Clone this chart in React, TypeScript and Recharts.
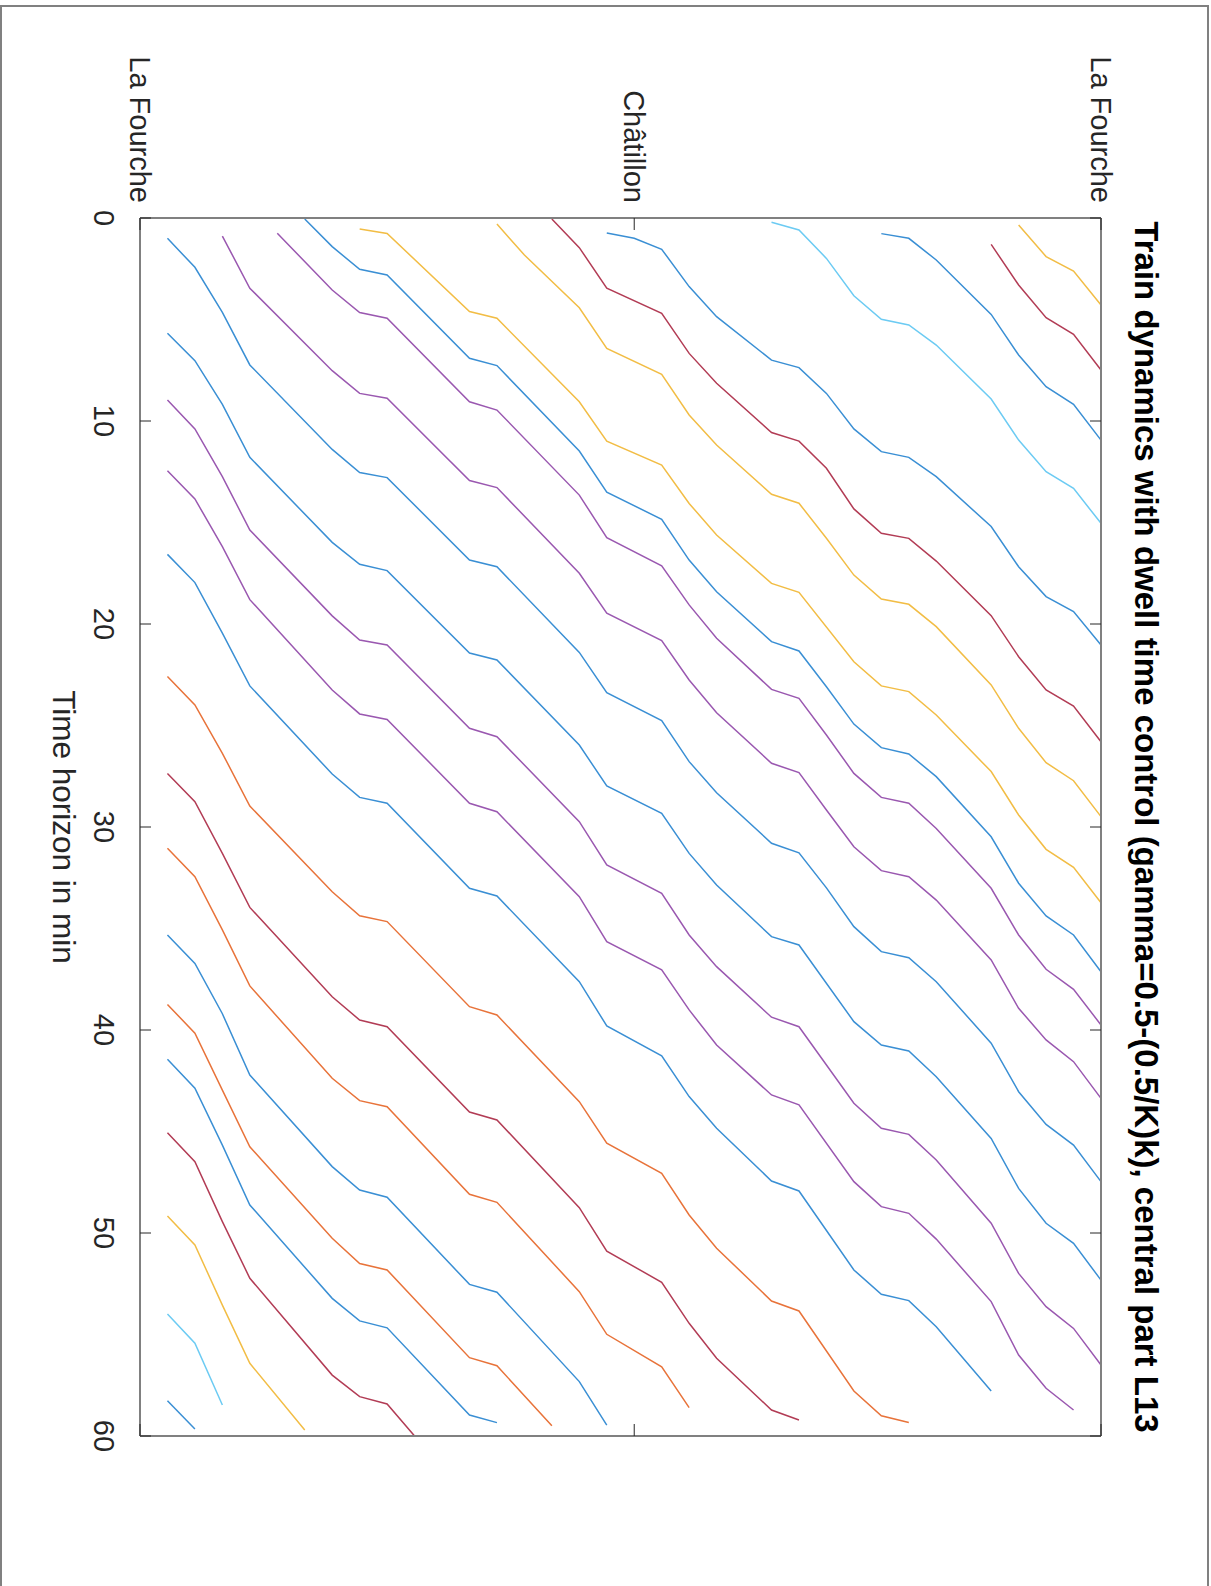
import { LineChart, Line, XAxis, YAxis, ReferenceLine } from 'recharts'

// MATLAB-ish palette (thin lines look lighter in the reference)
const BLUE = '#3a8fd4'
const ORANGE = '#e8733a'
const YELLOW = '#f2bd45'
const PURPLE = '#9a58b0'
const LIGHTBLUE = '#6ccbf3'
const RED = '#b23c55'

const TIME_TICKS = [0, 10, 20, 30, 40, 50, 60]
const STATION_TICKS = [0, 18, 35]
const STATION_NAMES = ['La Fourche', 'Châtillon', 'La Fourche']

// trajectories as [position index, minute]
const purple1 = [[3, 0.89], [4, 3.46], [7, 7.52], [8, 8.64], [9, 8.88], [12, 12.93], [13, 13.28], [16, 17.5], [17, 19.47], [19, 20.82], [20, 22.76], [21, 24.37], [23, 26.86], [24, 27.32], [25, 29.16], [26, 30.97], [27, 32.15], [28, 32.45], [29, 33.6], [31, 36.55], [32, 38.93], [33, 40.49], [34, 41.56], [35, 43.37]]
const purple2 = [[5, 0.75], [7, 3.55], [8, 4.66], [9, 4.94], [12, 9.05], [13, 9.46], [16, 13.65], [17, 15.75], [19, 17.13], [20, 19.06], [21, 20.7], [23, 23.22], [24, 23.66], [25, 25.47], [26, 27.36], [27, 28.54], [28, 28.83], [29, 30.07], [31, 33.02], [32, 35.32], [33, 37.01], [34, 38.0], [35, 39.75]]
const blue1 = [[6, 0.05], [7, 1.41], [8, 2.53], [9, 2.81], [12, 6.91], [13, 7.27], [16, 11.48], [17, 13.51], [19, 14.84], [20, 16.85], [21, 18.41], [23, 20.87], [24, 21.33], [25, 23.09], [26, 24.93], [27, 26.09], [28, 26.4], [29, 27.52], [31, 30.48], [32, 32.77], [33, 34.38], [34, 35.32], [35, 37.13]]
const yellow1 = [[8, 0.54], [9, 0.76], [12, 4.61], [13, 4.94], [16, 9.05], [17, 10.99], [19, 12.17], [20, 14.06], [21, 15.62], [23, 18.0], [24, 18.44], [26, 21.86], [27, 23.05], [28, 23.33], [29, 24.48], [31, 27.27], [32, 29.41], [33, 31.1], [34, 31.99], [35, 33.73]]
const yellow2 = [[13, 0.3], [14, 1.82], [16, 4.42], [17, 6.42], [19, 7.7], [20, 9.7], [21, 11.18], [23, 13.61], [24, 14.05], [25, 15.78], [26, 17.59], [27, 18.77], [28, 19.03], [29, 20.13], [31, 23.0], [32, 25.14], [33, 26.83], [34, 27.72], [35, 29.49]]
const red1 = [[15, 0.05], [16, 1.46], [17, 3.46], [19, 4.7], [20, 6.67], [21, 8.14], [23, 10.57], [24, 10.99], [25, 12.33], [26, 14.33], [27, 15.53], [28, 15.78], [29, 16.9], [31, 19.59], [32, 21.61], [33, 23.25], [34, 24.04], [35, 25.8]]
const blue2 = [[17, 0.74], [18, 1.0], [19, 1.54], [20, 3.38], [21, 4.86], [23, 7.0], [24, 7.37], [25, 8.64], [26, 10.39], [27, 11.51], [28, 11.79], [29, 12.74], [31, 15.2], [32, 17.18], [33, 18.65], [34, 19.39], [35, 21.03]]
const lightblue1 = [[23, 0.21], [24, 0.59], [25, 1.99], [26, 3.83], [27, 4.99], [28, 5.27], [29, 6.26], [31, 8.92], [32, 10.94], [33, 12.5], [34, 13.32], [35, 15.04]]
const blue3 = [[27, 0.77], [28, 1.0], [29, 2.07], [31, 4.75], [32, 6.75], [33, 8.31], [34, 9.18], [35, 10.94]]
const red2 = [[31, 1.3], [32, 3.3], [33, 4.91], [34, 5.73], [35, 7.49]]
const yellow3 = [[32, 0.34], [33, 1.9], [34, 2.61], [35, 4.29]]
const blue4 = [[1, 1.0], [2, 2.43], [3, 4.65], [4, 7.24], [7, 11.4], [8, 12.54], [9, 12.79], [12, 16.85], [13, 17.18], [16, 21.4], [17, 23.38], [19, 24.76], [20, 26.78], [21, 28.31], [23, 30.8], [24, 31.27], [25, 33.0], [26, 34.91], [27, 36.14], [28, 36.44], [29, 37.62], [31, 40.65], [32, 43.04], [33, 44.65], [34, 45.67], [35, 47.47]]
const blue5 = [[1, 5.68], [2, 7.03], [3, 9.18], [4, 11.79], [7, 15.98], [8, 17.06], [9, 17.37], [12, 21.43], [13, 21.77], [16, 25.96], [17, 27.98], [19, 29.33], [20, 31.3], [21, 32.86], [23, 35.4], [24, 35.81], [26, 39.59], [27, 40.74], [28, 41.03], [29, 42.3], [31, 45.34], [32, 47.8], [33, 49.52], [34, 50.51], [35, 52.32]]
const purple3 = [[1, 8.97], [2, 10.39], [3, 12.74], [4, 15.37], [7, 19.6], [8, 20.79], [9, 21.03], [12, 25.14], [13, 25.55], [16, 29.74], [17, 31.87], [19, 33.27], [20, 35.32], [21, 36.88], [23, 39.37], [24, 39.84], [26, 43.61], [27, 44.84], [28, 45.14], [29, 46.4], [31, 49.52], [32, 51.99], [33, 53.63], [34, 54.7], [35, 56.5]]
const purple4 = [[1, 12.45], [2, 13.84], [3, 16.19], [4, 18.8], [7, 23.25], [8, 24.43], [9, 24.7], [12, 28.83], [13, 29.25], [16, 33.43], [17, 35.65], [19, 37.04], [20, 39.01], [21, 40.74], [23, 43.2], [24, 43.69], [26, 47.47], [27, 48.7], [28, 49.03], [29, 50.3], [31, 53.38], [32, 56.01], [33, 57.65], [34, 58.72]]
const blue6 = [[1, 16.57], [2, 17.96], [3, 20.45], [4, 23.05], [7, 27.39], [8, 28.54], [9, 28.83], [12, 33.02], [13, 33.4], [16, 37.62], [17, 39.8], [19, 41.27], [20, 43.28], [21, 44.84], [23, 47.44], [24, 47.93], [26, 51.82], [27, 53.02], [28, 53.33], [29, 54.62], [31, 57.78]]
const orange1 = [[1, 22.59], [2, 23.99], [3, 26.37], [4, 28.97], [7, 33.19], [8, 34.37], [9, 34.66], [12, 38.85], [13, 39.26], [16, 43.53], [17, 45.58], [19, 47.06], [20, 49.11], [21, 50.75], [23, 53.35], [24, 53.84], [26, 57.78], [27, 59.0], [28, 59.33]]
const red3 = [[1, 27.36], [2, 28.75], [3, 31.3], [4, 33.96], [7, 38.36], [8, 39.51], [9, 39.84], [12, 44.04], [13, 44.43], [16, 48.75], [17, 50.89], [19, 52.43], [20, 54.45], [21, 56.17], [23, 58.72], [24, 59.21]]
const orange2 = [[1, 31.05], [2, 32.45], [3, 35.07], [4, 37.83], [7, 42.38], [8, 43.48], [9, 43.78], [12, 48.09], [13, 48.49], [16, 52.89], [17, 54.99], [19, 56.59], [20, 58.6]]
const blue7 = [[1, 35.32], [2, 36.72], [3, 39.2], [4, 42.22], [7, 46.73], [8, 47.88], [9, 48.24], [12, 52.53], [13, 52.92], [16, 57.32], [17, 59.46]]
const orange3 = [[1, 38.74], [2, 40.16], [3, 42.96], [4, 45.75], [7, 50.26], [8, 51.5], [9, 51.82], [12, 56.14], [13, 56.54], [15, 59.49]]
const blue8 = [[1, 41.44], [2, 42.87], [3, 45.67], [4, 48.62], [7, 53.22], [8, 54.33], [9, 54.67], [12, 58.97], [13, 59.34]]
const red4 = [[1, 45.06], [2, 46.49], [3, 49.44], [4, 52.23], [7, 57.0], [8, 58.06], [9, 58.42], [10, 60.0]]
const yellow4 = [[1, 49.16], [2, 50.59], [3, 53.55], [4, 56.42], [6, 59.7]]
const lightblue2 = [[1, 53.99], [2, 55.43], [3, 58.47]]
const blue9 = [[1, 58.26], [2, 59.66]]

const TRAINS = [
  { id: 'purple1', color: PURPLE, points: purple1 },
  { id: 'purple2', color: PURPLE, points: purple2 },
  { id: 'blue1', color: BLUE, points: blue1 },
  { id: 'yellow1', color: YELLOW, points: yellow1 },
  { id: 'yellow2', color: YELLOW, points: yellow2 },
  { id: 'red1', color: RED, points: red1 },
  { id: 'blue2', color: BLUE, points: blue2 },
  { id: 'lightblue1', color: LIGHTBLUE, points: lightblue1 },
  { id: 'blue3', color: BLUE, points: blue3 },
  { id: 'red2', color: RED, points: red2 },
  { id: 'yellow3', color: YELLOW, points: yellow3 },
  { id: 'blue4', color: BLUE, points: blue4 },
  { id: 'blue5', color: BLUE, points: blue5 },
  { id: 'purple3', color: PURPLE, points: purple3 },
  { id: 'purple4', color: PURPLE, points: purple4 },
  { id: 'blue6', color: BLUE, points: blue6 },
  { id: 'orange1', color: ORANGE, points: orange1 },
  { id: 'red3', color: RED, points: red3 },
  { id: 'orange2', color: ORANGE, points: orange2 },
  { id: 'blue7', color: BLUE, points: blue7 },
  { id: 'orange3', color: ORANGE, points: orange3 },
  { id: 'blue8', color: BLUE, points: blue8 },
  { id: 'red4', color: RED, points: red4 },
  { id: 'yellow4', color: YELLOW, points: yellow4 },
  { id: 'lightblue2', color: LIGHTBLUE, points: lightblue2 },
  { id: 'blue9', color: BLUE, points: blue9 },
]

// chart is drawn unrotated (time left->right) then turned 90deg clockwise
const W = 1586
const H = 1211
const PLOT_LEFT = 218
const PLOT_RIGHT = 1436
const PLOT_TOP = 110
const PLOT_BOTTOM = 1071
const PLOT_W = PLOT_RIGHT - PLOT_LEFT
const FONT = '"Liberation Sans", Arial, Helvetica, sans-serif'
const TEXT = '#262626'
const TICK_LEN = 11

function TimeTick(props: any) {
  const { x, y, payload } = props
  return (
    <g>
      <line x1={x} y1={PLOT_BOTTOM} x2={x} y2={PLOT_BOTTOM - TICK_LEN} stroke={TEXT} strokeWidth={1} />
      <line x1={x} y1={PLOT_TOP} x2={x} y2={PLOT_TOP + TICK_LEN} stroke={TEXT} strokeWidth={1} />
      <text x={x} y={y + 46} textAnchor="middle" fontSize={29} fontFamily={FONT} fill={TEXT}>
        {payload.value}
      </text>
    </g>
  )
}

function StationTick(props: any) {
  const { x, y, payload } = props
  const idx = STATION_TICKS.indexOf(payload.value)
  return (
    <g>
      <line x1={PLOT_LEFT} y1={y} x2={PLOT_LEFT + 12} y2={y} stroke={TEXT} strokeWidth={1} />
      <line x1={PLOT_RIGHT} y1={y} x2={PLOT_RIGHT - 12} y2={y} stroke={TEXT} strokeWidth={1} />
      <text x={x - 15} y={y + 10} textAnchor="end" fontSize={29} fontFamily={FONT} fill={TEXT}>
        {STATION_NAMES[idx]}
      </text>
    </g>
  )
}

export default function App() {
  return (
    <div style={{ position: 'absolute', left: 0, top: 0, width: 1211, height: 1586, overflow: 'hidden', background: '#fff' }}>
      <div
        style={{
          position: 'absolute', left: 0, top: 5, width: 1209, height: 1581, boxSizing: 'border-box',
          borderTop: '2px solid #808080', borderLeft: '2px solid #808080', borderRight: '2px solid #808080',
        }}
      />
      <div style={{ position: 'absolute', left: 0, top: 0, width: W, height: H, transformOrigin: '0 0', transform: `translate(${H}px, 0) rotate(90deg)` }}>
        <LineChart width={W} height={H} margin={{ top: PLOT_TOP, right: W - PLOT_RIGHT, bottom: 60, left: PLOT_LEFT - 80 }}>
          <XAxis
            type="number"
            dataKey="t"
            domain={[0, 60]}
            ticks={TIME_TICKS}
            height={80}
            axisLine={false}
            tickLine={false}
            tickSize={0}
            tickMargin={0}
            tick={<TimeTick />}
            interval={0}
          />
          <YAxis
            type="number"
            dataKey="pos"
            domain={[0, 35]}
            ticks={STATION_TICKS}
            width={80}
            axisLine={false}
            tickLine={false}
            tickSize={0}
            tickMargin={0}
            tick={<StationTick />}
            interval={0}
          />
          {TRAINS.map((tr) => (
            <Line
              key={tr.id}
              data={tr.points.map(([pos, t]) => ({ t, pos }))}
              dataKey="pos"
              stroke={tr.color}
              strokeWidth={1.5}
              dot={false}
              activeDot={false}
              isAnimationActive={false}
            />
          ))}
          <ReferenceLine x={0} stroke="#808080" strokeWidth={2} />
          <ReferenceLine x={60} stroke="#808080" strokeWidth={2} />
          <ReferenceLine y={0} stroke="#808080" strokeWidth={2} />
          <ReferenceLine y={35} stroke="#808080" strokeWidth={2} />
        </LineChart>
        <svg width={W} height={H} style={{ position: 'absolute', left: 0, top: 0, pointerEvents: 'none' }}>
          <text x={PLOT_LEFT + PLOT_W / 2} y={76} textAnchor="middle" fontSize={33} fontWeight="bold" fontFamily={FONT} fill="#000">
            Train dynamics with dwell time control (gamma=0.5-(0.5/K)k), central part L13
          </text>
          <text x={PLOT_LEFT + PLOT_W / 2} y={1158} textAnchor="middle" fontSize={31.5} fontFamily={FONT} fill={TEXT}>
            Time horizon in min
          </text>
        </svg>
      </div>
    </div>
  )
}
